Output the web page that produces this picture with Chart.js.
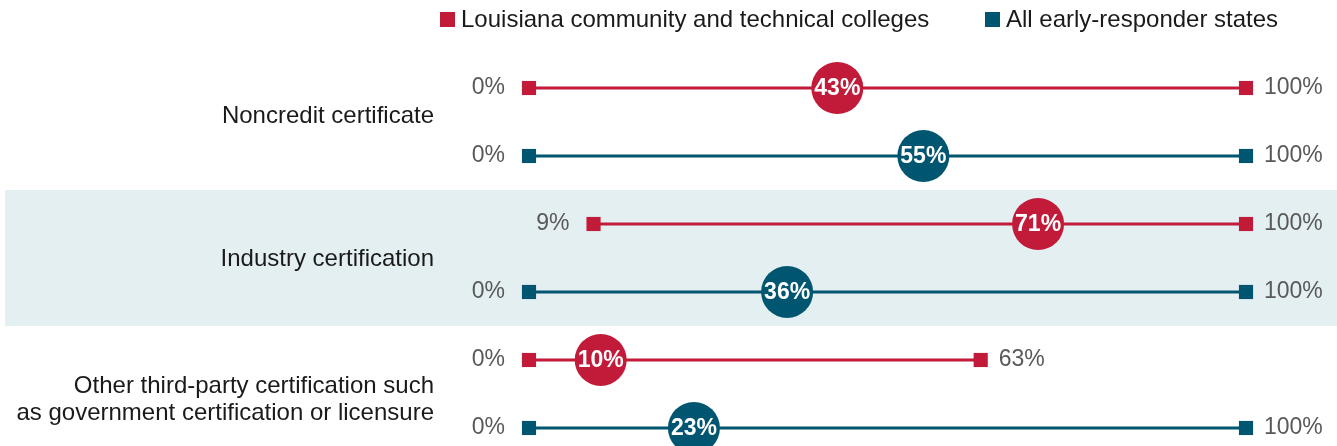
<!DOCTYPE html>
<html>
<head>
<meta charset="utf-8">
<script src="https://cdn.jsdelivr.net/npm/chart.js@4"></script>
<style>
  html, body { margin: 0; padding: 0; background: #fff; }
  #wrap { width: 1337px; height: 446px; position: relative; }
</style>
</head>
<body>
<div id="wrap"><canvas id="rangeChart"></canvas></div>
<script>
// data
var categories = [
  ["Noncredit certificate"],
  ["Industry certification"],
  ["Other third-party certification such", "as government certification or licensure"]
];
var seriesNames = ["Louisiana community and technical colleges", "All early-responder states"];
var laMin = [0, 9, 0];
var laMed = [43, 71, 10];
var laMax = [100, 100, 63];
var allMin = [0, 0, 0];
var allMed = [55, 36, 23];
var allMax = [100, 100, 100];

var RED = "#c21b3a";
var TEAL = "#005670";
var BAND = "#e4eff2";
var FONT = "'Liberation Sans', Arial, sans-serif";

var series = [
  { name: seriesNames[0], color: RED, min: laMin, med: laMed, max: laMax },
  { name: seriesNames[1], color: TEAL, min: allMin, med: allMed, max: allMax }
];

// one row per category/series pair
function rowOf(c, s) { return c * 2 + s; }

var datasets = [];
series.forEach(function (s, si) {
  categories.forEach(function (cat, ci) {
    datasets.push({
      kind: "range",
      data: [{ x: s.min[ci], y: rowOf(ci, si) }, { x: s.max[ci], y: rowOf(ci, si) }],
      borderColor: s.color,
      backgroundColor: s.color,
      borderWidth: 3,
      pointStyle: "rect",
      pointRadius: 10,
      pointBorderWidth: 0,
      pointBackgroundColor: s.color,
      clip: false,
      order: 2
    });
  });
});
series.forEach(function (s, si) {
  datasets.push({
    kind: "median",
    data: categories.map(function (cat, ci) { return { x: s.med[ci], y: rowOf(ci, si) }; }),
    showLine: false,
    pointStyle: "circle",
    pointRadius: 26,
    pointBorderWidth: 0,
    pointBackgroundColor: s.color,
    clip: false,
    order: 0
  });
});

var decor = {
  id: "decor",
  beforeDatasetsDraw: function (chart) {
    var ctx = chart.ctx, y = chart.scales.y;
    ctx.save();
    // highlight band behind the middle category
    var top = y.getPixelForValue(1.5), bot = y.getPixelForValue(3.5);
    ctx.fillStyle = BAND;
    ctx.fillRect(5, top, chart.width - 5, bot - top);

    // category labels
    ctx.fillStyle = "#1a1a1a";
    ctx.font = "24px " + FONT;
    ctx.textAlign = "right";
    ctx.textBaseline = "middle";
    var nudge = [-6, 1, 6];
    categories.forEach(function (lines, ci) {
      var mid = y.getPixelForValue(ci * 2 + 0.5) + nudge[ci];
      var lh = 27;
      lines.forEach(function (ln, k) {
        ctx.fillText(ln, 434, mid + (k - (lines.length - 1) / 2) * lh);
      });
    });

    // legend
    var lx = [440, 985];
    series.forEach(function (s, si) {
      ctx.fillStyle = s.color;
      ctx.fillRect(lx[si], 12, 15, 15);
      ctx.fillStyle = "#1a1a1a";
      ctx.textAlign = "left";
      ctx.fillText(s.name, lx[si] + 21, 20);
    });
    ctx.restore();
  },
  afterDatasetsDraw: function (chart) {
    var ctx = chart.ctx;
    ctx.save();
    ctx.textBaseline = "middle";
    chart.data.datasets.forEach(function (ds, i) {
      var pts = chart.getDatasetMeta(i).data;
      if (ds.kind === "range") {
        ctx.font = "23px " + FONT;
        ctx.fillStyle = "#595959";
        ctx.textAlign = "right";
        ctx.fillText(ds.data[0].x + "%", pts[0].x - 24, pts[0].y);
        ctx.textAlign = "left";
        ctx.fillText(ds.data[1].x + "%", pts[1].x + 18, pts[1].y);
      } else {
        ctx.font = "bold 23px " + FONT;
        ctx.fillStyle = "#fff";
        ctx.textAlign = "center";
        pts.forEach(function (p, j) {
          ctx.fillText(ds.data[j].x + "%", p.x, p.y + 1);
        });
      }
    });
    ctx.restore();
  }
};

new Chart(document.getElementById("rangeChart"), {
  type: "line",
  data: { datasets: datasets },
  options: {
    responsive: true,
    maintainAspectRatio: false,
    animation: false,
    layout: { autoPadding: false, padding: { top: 54, bottom: 0, left: 529, right: 91 } },
    plugins: { legend: { display: false }, tooltip: { enabled: false } },
    scales: {
      x: { type: "linear", min: 0, max: 100, display: false },
      y: { type: "linear", min: -0.5, max: 5.265, reverse: true, display: false }
    }
  },
  plugins: [decor]
});
</script>
</body>
</html>
